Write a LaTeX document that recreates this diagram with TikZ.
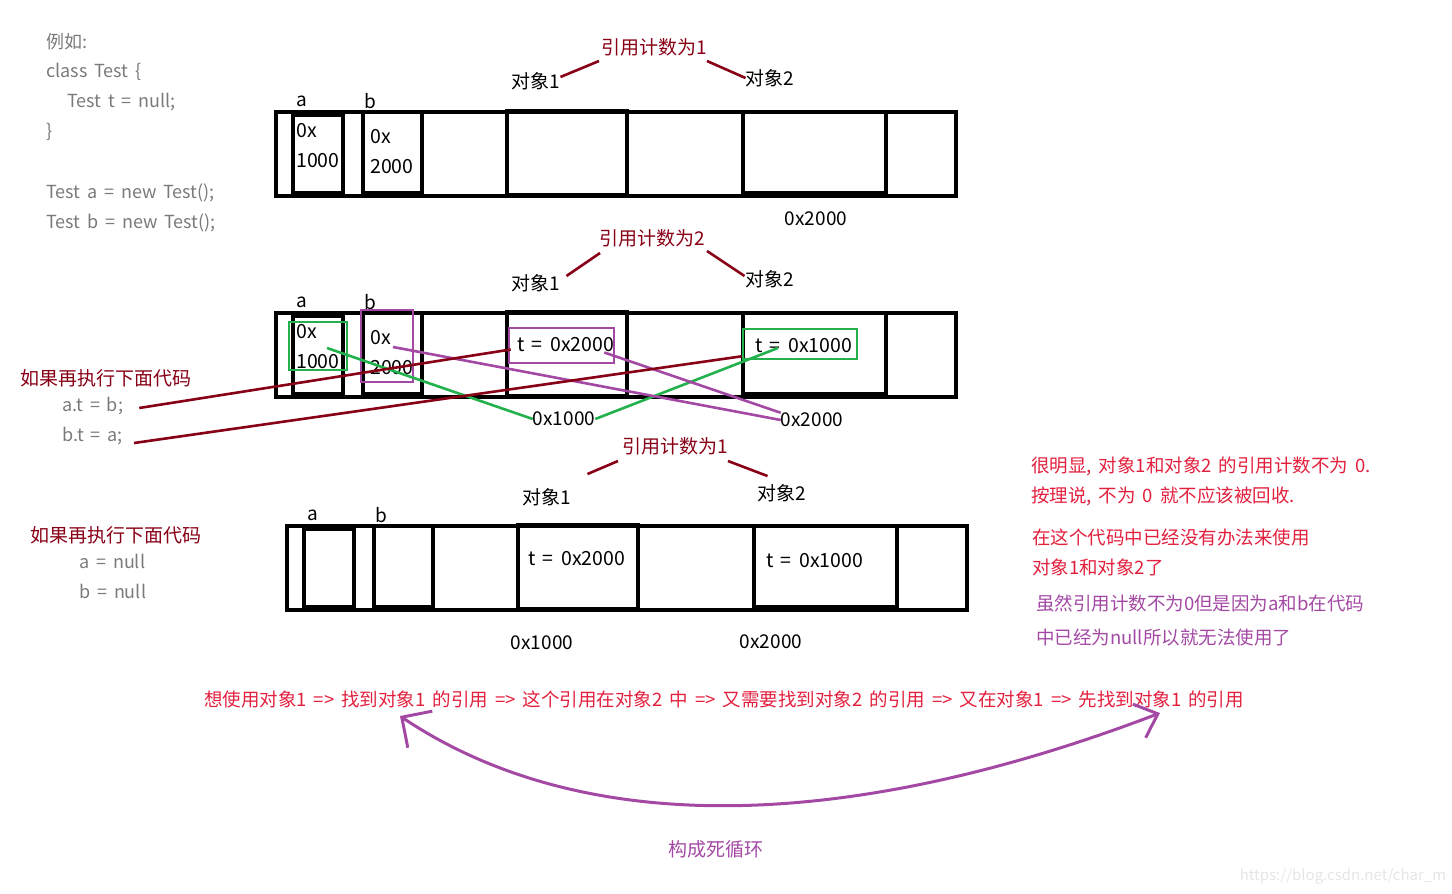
\documentclass[tikz,border=0pt]{standalone}
\usepackage{fontspec}
\setmainfont{Noto Sans CJK SC}[WordSpace=1.7]
\usepackage{xcolor}
\usetikzlibrary{positioning,calc,arrows.meta}

\definecolor{dred}{HTML}{880015}
\definecolor{ppl}{HTML}{A349A4}
\definecolor{grn}{HTML}{22B14C}
\definecolor{txtred}{HTML}{E2203E}
\definecolor{codegray}{HTML}{7A7A7A}

\begin{document}
\begin{tikzpicture}[
    x=1pt, y=-1pt,
    every node/.style={font=\fontsize{19}{22}\selectfont, inner sep=0},
    cell/.style={draw, line width=3.4},
    code/.style={text=codegray, anchor=west, font=\fontsize{18}{20}\selectfont},
    val/.style={anchor=west, align=left, font=\fontsize{19.5}{30}\selectfont},
    cnt/.style={text=dred},
    cntline/.style={dred, line width=2.6},
    hl/.style={draw, line width=2.6},
    note/.style={anchor=west, text=txtred, font=\fontsize{18.5}{20}\selectfont},
  ]
  \useasboundingbox (0,0) rectangle (1452,894);

  % code on the left
  \node[code] (c1) at (46,42) {例如:};
  \node[code] (c2) at (46,72) {class Test \{};
  \node[code] (c3) at (67,102) {Test t = null;};
  \node[code] (c4) at (46,132) {\}};
  \node[code] (c5) at (46,193) {Test a = new Test();};
  \node[code] (c6) at (46,223) {Test b = new Test();};

  % three memory rows
  \foreach \r/\dx/\dy in {1/0/0, 2/0/201, 3/11/414} {
    \begin{scope}[shift={(\dx,\dy)}]
      \node[cell, minimum width=680, minimum height=84] (m\r) at (616,154) {};
      \node[cell, minimum width=50, minimum height=78] (a\r) at (318,154) {};
      \node[cell, minimum width=59, minimum height=81] (b\r) at (392.5,152.5) {};
      \node[cell, minimum width=120, minimum height=84] (o\r1) at (567,153) {};
      \node[cell, minimum width=143, minimum height=81] (o\r2) at (814.5,152.5) {};
      \node (la\r) at (302,101) {a};
      \node (lb\r) at (370,101) {b};
    \end{scope}
  }

  % values
  \node[val] (va1) at (296,146) {0x\\1000};
  \node[val] (vb1) at (370,152) {0x\\2000};
  \node[val] (va2) at (296,347) {0x\\1000};
  \node[val] (vb2) at (370,353) {0x\\2000};
  \node[val] (t21) at (517,345) {t = 0x2000};
  \node[val] (t22) at (755,346) {t = 0x1000};
  \node[val] (t31) at (528,559) {t = 0x2000};
  \node[val] (t32) at (766,561) {t = 0x1000};

  \node (ad1) at (816,219) {0x2000};
  \node (ad21) at (564,419) {0x1000};
  \node (ad22) at (812,420) {0x2000};
  \node (ad31) at (542,643) {0x1000};
  \node (ad32) at (771,642) {0x2000};

  % reference counts
  \node[cnt] (n1) at (654,47) {引用计数为1};
  \node (o1l1) at (536,81) {对象1};
  \node (o2l1) at (770,78) {对象2};
  \draw[cntline] ($(n1.south west)+(-2,5)$) -- ($(o1l1.east)+(0,-4)$);
  \draw[cntline] ($(n1.south east)+(0,5)$) -- (o2l1.west);

  \node[cnt] (n2) at (652,238) {引用计数为2};
  \node (o1l2) at (536,283) {对象1};
  \node (o2l2) at (770,279) {对象2};
  \draw[cntline] ($(n2.south west)+(1,6)$) -- ($(o1l2.east)+(6,-7)$);
  \draw[cntline] ($(n2.south east)+(2,4)$) -- ($(o2l2.west)+(-1,-3)$);

  \node[cnt] (n3) at (675,446) {引用计数为1};
  \node (o1l3) at (547,497) {对象1};
  \node (o2l3) at (782,493) {对象2};
  \draw[cntline] ($(n3.south west)+(-4,6)$) -- ($(o1l3.north east)+(16,-14)$);
  \draw[cntline] ($(n3.south east)+(0,6)$) -- ($(o2l3.north west)+(10,-8)$);

  % highlights in row 2
  \node[hl, grn, minimum width=58, minimum height=48] (ga) at (318,346) {};
  \node[hl, ppl, minimum width=52, minimum height=72] (pb) at (387,346) {};
  \node[hl, ppl, minimum width=105, minimum height=35] (pt) at (561.5,345.5) {};
  \node[hl, grn, minimum width=114, minimum height=30] (gt) at (800,344) {};

  % statements
  \node[cnt, anchor=west] (if1) at (20,378) {如果再执行下面代码};
  \node[code] (at) at (62,406) {a.t = b;};
  \node[code] (bt) at (62,436) {b.t = a;};
  \node[cnt, anchor=west] (if2) at (30,535) {如果再执行下面代码};
  \node[code] (an) at (79,561) {a = null};
  \node[code] (bn) at (79,591) {b = null};

  \draw[grn, line width=2.6] ($(ga.center)+(9,2)$) -- (ad21.west);
  \draw[grn, line width=2.6] (ad21.east) -- ($(gt.center)+(-22,4)$);
  \draw[ppl, line width=2.6] ($(pb.center)+(6,1)$) -- (ad22.west);
  \draw[ppl, line width=2.6] ($(pt.east)+(-11,7)$) -- (ad22.north west);
  \draw[cntline] ($(at.east)+(16,2)$) -- ($(pt.west)+(3,4)$);
  \draw[cntline] ($(bt.east)+(11,7)$) -- ($(gt.south west)+(0,-4)$);

  % notes
  \node[note] (r1) at (1031,466) {很明显, 对象1和对象2 的引用计数不为 0.};
  \node[note] (r2) at (1031,496) {按理说, 不为 0 就不应该被回收.};
  \node[note] (r3) at (1032,537) {在这个代码中已经没有办法来使用};
  \node[note] (r4) at (1032,567) {对象1和对象2了};
  \node[note, text=ppl] (r5) at (1036,603) {虽然引用计数不为0但是因为a和b在代码};
  \node[note, text=ppl] (r6) at (1036,638) {中已经为null所以就无法使用了};

  \node[note, anchor=center] (chain) at (724,699) {想使用对象1 => 找到对象1 的引用 => 这个引用在对象2 中 => 又需要找到对象2 的引用 => 又在对象1 => 先找到对象1 的引用};

  % loop
  \coordinate (lt) at (400,716);
  \coordinate (rt) at (1160,713);
  \draw[ppl, line width=3, {Straight Barb[length=22pt,width=44pt]}-{Straight Barb[length=20pt,width=36pt]}]
    (lt) .. controls (600,850) and (880,820) .. (rt);
  \node[text=ppl] (loop) at (716,849) {构成死循环};

  \node[text=black!10, font=\fontsize{15}{16}\selectfont] (wm) at (1343,876) {https://blog.csdn.net/char\_m};
\end{tikzpicture}
\end{document}
